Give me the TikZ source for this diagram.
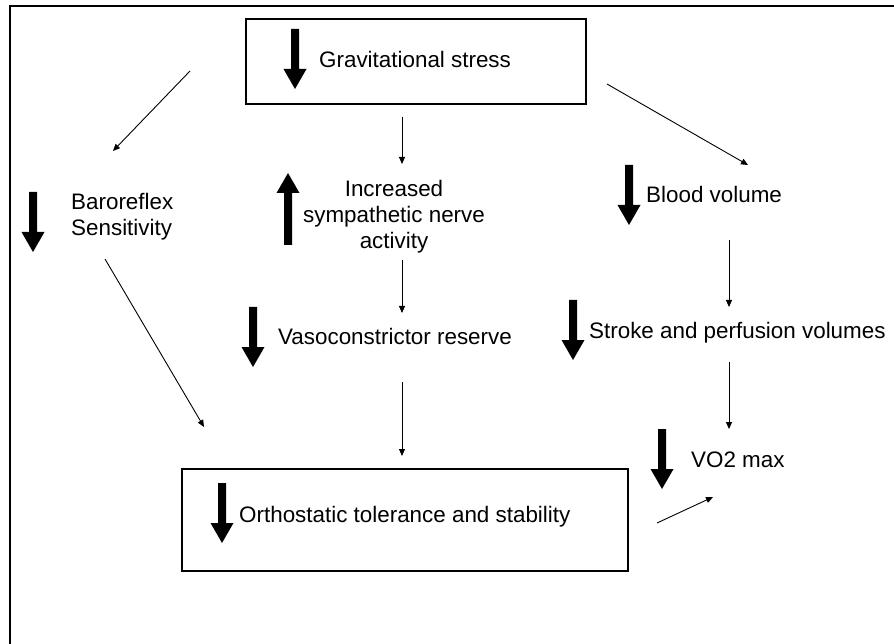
\documentclass[tikz,border=0pt]{standalone}
\usepackage{fontspec}
\setmainfont{Liberation Sans}
\usetikzlibrary{arrows.meta}
\begin{document}
\begin{tikzpicture}[x=1pt,y=-1pt,
  lbl/.style={inner sep=0pt, font=\fontsize{22.4}{26}\selectfont},
  boxnode/.style={draw, line width=2.8pt, inner sep=0pt},
  conn/.style={line width=0.9pt, -{Triangle[length=7pt,width=6pt]}},
  darr/.pic={\fill (-4,0) -- (4,0) -- (4,40) -- (11.5,40) -- (0,60) -- (-11.5,40) -- (-4,40) -- cycle;},
  uarr/.pic={\fill (-4,72) -- (4,72) -- (4,20) -- (11.5,20) -- (0,0) -- (-11.5,20) -- (-4,20) -- cycle;}
]
\useasboundingbox (0,0) rectangle (894,644);
\fill[white] (0,0) rectangle (894,644);
% outer frame (cut off at right and bottom)
\draw[line width=2pt] (10,644) -- (10,6) -- (894,6);

% boxes
\node[boxnode, minimum width=340pt, minimum height=85pt] (topbox) at (416,61.5) {};
\node[boxnode, minimum width=446pt, minimum height=102pt] (orthobox) at (405,520) {};

% texts
\node[lbl, anchor=base west] (grav) at (319,68) {Gravitational stress};
\node[lbl, anchor=north west, align=left] (baro) at (71,193) {Baroreflex\\Sensitivity};
\node[lbl, anchor=north, align=center] (symp) at (394,180) {Increased\\sympathetic nerve\\activity};
\node[lbl, anchor=base west] (vaso) at (278,344) {Vasoconstrictor reserve};
\node[lbl, anchor=base west] (blood) at (646,203) {Blood volume};
\node[lbl, anchor=base west] (stroke) at (589,338) {Stroke and perfusion volumes};
\node[lbl, anchor=base west] (vo2) at (691,467) {VO2 max};
\node[lbl, anchor=base west] (ortho) at (239,522) {Orthostatic tolerance and stability};

% big up/down arrows
\pic at (295,29) {darr};
\pic at (33,192) {darr};
\pic at (288,173) {uarr};
\pic at (253,307) {darr};
\pic at (629,165) {darr};
\pic at (573,300) {darr};
\pic at (662,429) {darr};
\pic at (222,483) {darr};

% connector end points
\coordinate (c1s) at (190,71);  \coordinate (c1e) at (113,151);
\coordinate (c2s) at (402,117); \coordinate (c2e) at (402,164);
\coordinate (c3s) at (607,84);  \coordinate (c3e) at (748,165);
\coordinate (c4s) at (105,259); \coordinate (c4e) at (204,427);
\coordinate (c5s) at (402,260); \coordinate (c5e) at (402,313);
\coordinate (c6s) at (402,382); \coordinate (c6e) at (402,456);
\coordinate (c7s) at (729,240); \coordinate (c7e) at (729,307);
\coordinate (c8s) at (729,362); \coordinate (c8e) at (729,429);
\coordinate (c9s) at (657,523); \coordinate (c9e) at (713,497);

\draw[conn] (c1s) -- (c1e);
\draw[conn] (c2s) -- (c2e);
\draw[conn] (c3s) -- (c3e);
\draw[conn] (c4s) -- (c4e);
\draw[conn] (c5s) -- (c5e);
\draw[conn] (c6s) -- (c6e);
\draw[conn] (c7s) -- (c7e);
\draw[conn] (c8s) -- (c8e);
\draw[conn] (c9s) -- (c9e);
\end{tikzpicture}
\end{document}
